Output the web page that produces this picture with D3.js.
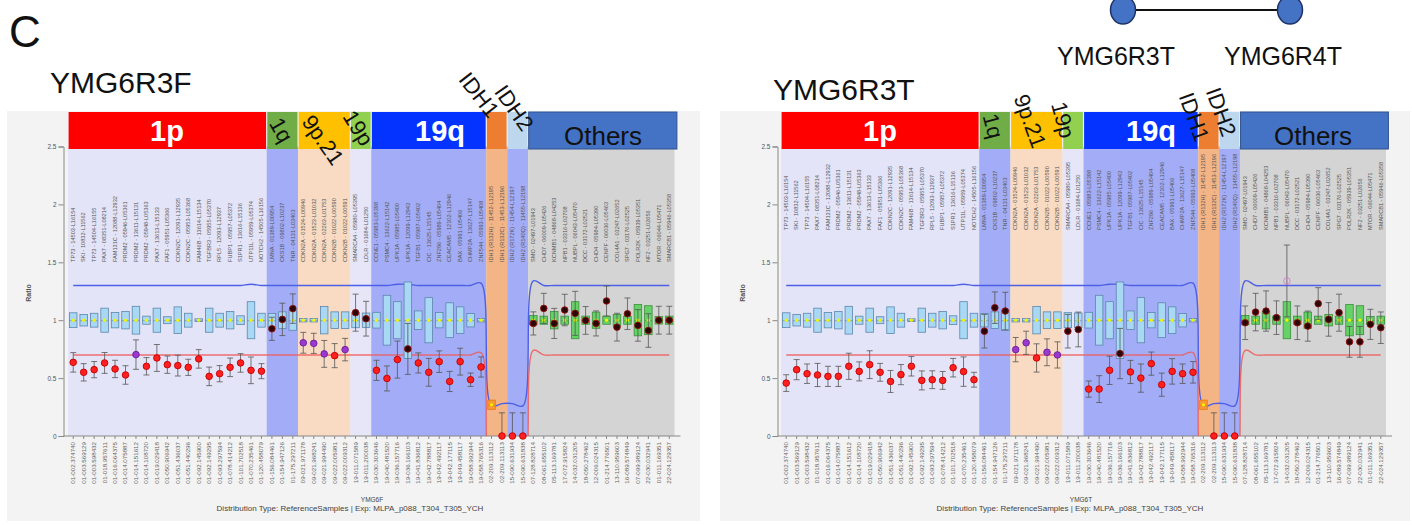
<!DOCTYPE html>
<html>
<head>
<meta charset="utf-8">
<script src="https://cdn.jsdelivr.net/npm/d3@7"></script>
<style>
  body { margin: 0; background: #fff; }
  text { font-family: "Liberation Sans", Arial, sans-serif; }
</style>
</head>
<body>
<svg id="chart" width="1412" height="525"></svg>
<script>
// chromosome regions of the MLPA kit, in probe order
const regionNames = ["1p", "1q", "9p.21", "19p", "19q", "IDH1", "IDH2", "Others"];
const regionSizes = [19, 3, 5, 2, 11, 2, 2, 14];
const headColors = ["#ff0000", "#70ad47", "#ffc000", "#92d050", "#0433ff", "#ed7d31", "#bdd7ee", "#4472c4"];
const bandColors = ["#e4e4f8", "#a3acf6", "#f8dbc2", "#e6e6f8", "#a3acf6", "#f3b486", "#a3acf6", "#d4d4d4"];

const probeNames = [
  "TP73 - 14503-L16154", "SKI - 10832-L11562", "TP73 - 14504-L16155", "PAX7 - 08351-L08214", "FAM131C - 12088-L12932",
  "PRDM2 - 05946-L05361", "PRDM2 - 13611-L15131", "PRDM2 - 05948-L05363", "PAX7 - 13613-L15133", "FAF1 - 05951-L05366",
  "CDKN2C - 12091-L12935", "CDKN2C - 05953-L05368", "FAM46B - 13614-L15134", "TGFBR3 - 05955-L05370", "RPL5 - 12093-L12937",
  "FUBP1 - 05957-L05372", "S1PR1 - 13616-L15136", "UTP11L - 05959-L05374", "NOTCH2 - 14505-L16156",
  "LMNA - 01389-L00954", "CKS1B - 09802-L10237", "TNR - 04131-L03403",
  "CDKN2A - 01524-L00946", "CDKN2A - 01523-L01032", "CDKN2A - 02263-L01753", "CDKN2B - 01022-L00590", "CDKN2B - 01022-L00591",
  "SMARCA4 - 05980-L05395", "LDLR - 01684-L01250",
  "CCNE1 - 05983-L05398", "PSMC4 - 13622-L15142", "UPK1A - 05985-L05400", "UPK1A - 12099-L12943", "TGFB1 - 05987-L05402",
  "CIC - 13625-L15145", "ZNF296 - 05989-L05404", "CEACAM5 - 12102-L12946", "BAX - 05991-L05406", "CHMP2A - 13627-L15147",
  "ZNF544 - 05993-L05408",
  "IDH1 (R132H) - 11452-L12195", "IDH1 (R132C) - 11453-L12196",
  "IDH2 (R172K) - 11454-L12197", "IDH2 (R140Q) - 11455-L12198",
  "SMO - 02497-L01943", "CHD7 - 06009-L05426", "KCNMB1 - 04868-L04253", "NPB1 - 03316-L02708", "NUBPL - 06043-L05470",
  "DCC - 03172-L02521", "CHD4 - 05984-L05390", "CENPF - 06036-L05463", "COL4A1 - 03247-L02652", "SPG7 - 03176-L02525",
  "POLR2K - 05939-L05351", "NF2 - 03251-L02656", "MTOR - 06044-L05471", "SMARCB1 - 05946-L05358"
];

const probeLoci = [
  "01-002.374740", "01-003.569129", "01-003.598432", "01-018.957611", "01-016.064375", "01-014.075887", "01-014.151612",
  "01-014.108720", "01-019.029418", "01-050.906942", "01-051.436037", "01-051.440296", "01-092.145900", "01-092.149295",
  "01-093.297594", "01-078.414212", "01-101.702518", "01-070.235461", "01-120.458079",
  "01-156.084461", "01-154.947126", "01-175.297211",
  "09-021.971178", "09-021.968241", "09-021.994490", "09-022.005981", "09-022.009312",
  "19-011.071589", "19-011.200038",
  "19-030.303646", "19-040.481520", "19-036.157716", "19-036.166103", "19-041.836812", "19-042.788817", "19-042.492117",
  "19-042.177115", "19-049.458117", "19-058.992944", "19-058.765316",
  "02-209.113112", "02-209.113113", "15-090.631934", "15-090.631838",
  "07-128.828714", "08-061.655102", "05-113.169781", "17-072.915824", "14-032.031205", "18-050.278462",
  "12-006.024315", "01-214.776501", "13-110.959603", "16-089.574849", "07-099.989124", "22-030.032941",
  "01-011.169351", "22-024.129357"
];

// reference distribution (box) per probe
const refLevel = [
  1, 1, 1, 1, 1, 1, 1, 1, 1, 1, 1, 1, 1, 1, 1, 1, 1, 1, 1,
  1, 1, 1,
  1, 1, 1, 1, 1,
  1, 1,
  1, 1, 1, 1, 1, 1, 1, 1, 1, 1, 1,
  0.27, null, null, null,
  1, 1, 1, 1, 1, 1, 1, 1, 1, 1, 1, 1, 1, 1
];
const refSpread = [
  0.064, 0.05, 0.06, 0.104, 0.066, 0.075, 0.12, 0.035, 0.104, 0.03, 0.115, 0.06, 0.012, 0.104, 0.06, 0.075, 0.038, 0.16, 0.06,
  0.058, 0.072, 0.087,
  0.015, 0.015, 0.118, 0.072, 0.072,
  0.065, 0.062,
  0.068, 0.215, 0.16, 0.33, 0.08, 0.195, 0.066, 0.15, 0.115, 0.058, 0.015,
  0.04, null, null, null,
  0.04, 0.035, 0.075, 0.035, 0.16, 0.035, 0.07, 0.035, 0.05, 0.035, 0.135, 0.125, 0.033, 0.035
];

// arbitrary limits (upper / lower) per probe
const upperLimit = [
  1.3, 1.3, 1.3, 1.3, 1.3, 1.3, 1.3, 1.3, 1.3, 1.3, 1.3, 1.3, 1.3, 1.3, 1.3, 1.3, 1.3, 1.31, 1.3,
  1.3, 1.3, 1.3,
  1.3, 1.3, 1.3, 1.3, 1.3,
  1.3, 1.3,
  1.3, 1.3, 1.31, 1.31, 1.3, 1.3, 1.3, 1.3, 1.3, 1.3, 1.32,
  0.26, 0.28, 0.28, 0.26,
  1.34, 1.3, 1.3, 1.3, 1.3, 1.3, 1.3, 1.3, 1.3, 1.3, 1.3, 1.3, 1.3, 1.3
];
const lowerLimit = [
  0.7, 0.7, 0.7, 0.7, 0.7, 0.7, 0.7, 0.7, 0.7, 0.7, 0.7, 0.7, 0.7, 0.7, 0.7, 0.7, 0.7, 0.7, 0.7,
  0.7, 0.7, 0.7,
  0.7, 0.7, 0.7, 0.7, 0.7,
  0.7, 0.7,
  0.7, 0.7, 0.7, 0.7, 0.7, 0.7, 0.7, 0.7, 0.7, 0.7, 0.72,
  -0.4, -0.4, -0.4, -0.4,
  0.74, 0.7, 0.7, 0.7, 0.7, 0.7, 0.7, 0.7, 0.7, 0.7, 0.7, 0.7, 0.7, 0.7
];

// YMG6R3F (left)
const leftRatio = [
  0.636, 0.55, 0.573, 0.631, 0.579, 0.527, 0.703, 0.602, 0.674, 0.616, 0.608, 0.593, 0.666, 0.515, 0.538, 0.593, 0.631, 0.567, 0.56,
  0.926, 1.007, 1.10,
  0.805, 0.80, 0.709, 0.694, 0.746,
  1.065, 1.013,
  0.567, 0.497, 0.66, 0.752, 0.631, 0.55, 0.642, 0.471, 0.642, 0.486, 0.596,
  null, 0, 0, 0,
  0.972, 1.102, 0.972, 1.088, 1.059, 0.998, 0.972, 1.166, 0.94, 1.056, 0.955, 0.911, 1.0, 1.0
];
const leftErr = [
  0.084, 0.075, 0.07, 0.09, 0.075, 0.08, 0.127, 0.075, 0.116, 0.075, 0.09, 0.07, 0.08, 0.08, 0.07, 0.08, 0.08, 0.115, 0.065,
  0.1, 0.14, 0.127,
  0.09, 0.087, 0.116, 0.104, 0.097,
  0.16, 0.15,
  0.087, 0.108, 0.16, 0.22, 0.087, 0.12, 0.093, 0.087, 0.116, 0.058, 0.087,
  0, 0.2, 0.2, 0.2,
  0.1, 0.13, 0.13, 0.136, 0.19, 0.12, 0.108, 0.13, 0.12, 0.136, 0.136, 0.145, 0.12, 0.12
];
// r = loss, k = normal, p = borderline, o = gain, - = none
const leftCall = "rrrrrrprrrrrrrrrrrr" + "kkk" + "ppprp" + "kk" + "rrrkrrrrrrr" + "-rrr" + "kkkkkkkkkkkkkk";

// YMG6R3T (right)
const rightRatio = [
  0.457, 0.573, 0.538, 0.527, 0.515, 0.515, 0.602, 0.558, 0.616, 0.55, 0.471, 0.53, 0.602, 0.48, 0.486, 0.48, 0.59, 0.556, 0.486,
  0.905, 1.108, 1.079,
  0.746, 0.805, 0.674, 0.723, 0.70,
  0.905, 0.92,
  0.405, 0.405, 0.567, 0.712, 0.553, 0.5, 0.625, 0.443, 0.558, 0.538, 0.55,
  null, 0, 0, 0,
  0.978, 1.07, 1.079, 1.022, 1.339, 0.978, 0.949, 1.143, 1.007, 1.065, 0.813, 0.813, 0.964, 0.935
];
const rightErr = [
  0.072, 0.087, 0.084, 0.1, 0.087, 0.087, 0.113, 0.082, 0.12, 0.077, 0.095, 0.087, 0.084, 0.082, 0.077, 0.077, 0.08, 0.127, 0.064,
  0.145, 0.136, 0.162,
  0.105, 0.1, 0.122, 0.116, 0.113,
  0.145, 0.15,
  0.07, 0.116, 0.122, 0.217, 0.1, 0.122, 0.1, 0.1, 0.11, 0.084, 0.093,
  0, 0.2, 0.2, 0.2,
  0.145, 0.162, 0.174, 0.145, 0.31, 0.145, 0.13, 0.138, 0.145, 0.16, 0.133, 0.133, 0.13, 0.136
];
const rightCall = "rrrrrrrrrrrrrrrrrrr" + "kkk" + "pprpp" + "kk" + "rrrkrrrrrrr" + "-rrr" + "kkkkokkkkkkkkk";

const yTicks = [0, 0.5, 1, 1.5, 2, 2.5];
const cloneNames = ["YMG6R3T", "YMG6R4T"];

const svg = d3.select("#chart");
const yTop = 146.5, yBot = 436;
const y = d3.scaleLinear().domain([0, 2.5]).range([yBot, yTop]);

// region index of each probe
const regionOf = [];
regionSizes.forEach((n, r) => { for (let k = 0; k < n; k++) regionOf.push(r); });
const regionStart = regionSizes.map((n, r) => d3.sum(regionSizes.slice(0, r)));

const dotStyle = {
  r: { fill: "#ff1f1f", stroke: "#c00000" },
  k: { fill: "#2b0606", stroke: "#9a1010" },
  p: { fill: "#9a38d0", stroke: "#6a1f99" },
  o: { fill: "none", stroke: "#d67ad6" }
};

svg.append("text").attr("x", 9).attr("y", 47).attr("font-size", 44).attr("fill", "#111").text("C");

function drawPanel(p, id) {
  const g = svg.append("g");
  const x = d3.scaleBand().domain(d3.range(probeNames.length)).range([p.plotL, p.plotR]);
  const bw = x.bandwidth();
  const cx = i => x(i) + bw / 2;

  g.append("rect").attr("x", p.bgX0).attr("y", 111).attr("width", p.bgX1 - p.bgX0).attr("height", 410)
    .attr("fill", "#f3f3f3");

  // title
  svg.append("text").attr("x", p.titleX).attr("y", p.titleY).attr("font-size", 30).attr("fill", "#111").text(p.title);

  // region backgrounds
  regionNames.forEach((name, r) => {
    const x0 = x(regionStart[r]);
    const x1 = x(regionStart[r] + regionSizes[r] - 1) + bw;
    g.append("rect").attr("x", x0).attr("y", yTop).attr("width", x1 - x0).attr("height", yBot - yTop)
      .attr("fill", bandColors[r]);
  });

  // probe names on top
  g.selectAll(".pname").data(probeNames).join("text")
    .attr("transform", (d, i) => `translate(${cx(i) + 1.8},${p.labelBase}) rotate(-90)`)
    .attr("font-size", 5.6).attr("fill", "#555").text(d => d);

  // header boxes
  regionNames.forEach((name, r) => {
    const x0 = x(regionStart[r]);
    let x1 = x(regionStart[r] + regionSizes[r] - 1) + bw;
    if (name === "Others") x1 += 3;
    g.append("rect").attr("x", x0 + 0.6).attr("y", 112).attr("width", x1 - x0 - 1.2).attr("height", 37)
      .attr("fill", headColors[r])
      .attr("stroke", name === "Others" ? "#2f528f" : "none").attr("stroke-width", 1);
  });

  // header labels
  p.heads.forEach(h => {
    const t = g.append("text").attr("font-size", h.size).attr("fill", h.color).text(h.text);
    if (h.bold) t.attr("font-weight", "bold");
    if (h.angle) {
      t.attr("text-anchor", "middle").attr("dominant-baseline", "central")
        .attr("transform", `translate(${h.x},${h.y}) rotate(${h.angle})`);
    } else {
      t.attr("text-anchor", "middle").attr("x", h.x).attr("y", h.y);
    }
  });

  // axes
  const yAxis = g.append("g").attr("transform", `translate(${p.axisX},0)`)
    .call(d3.axisLeft(y).tickValues(yTicks).tickSize(5).tickPadding(2).tickFormat(d => d));
  yAxis.selectAll("text").attr("font-size", 6.5).attr("fill", "#555");
  yAxis.selectAll("line,path").attr("stroke", "#888");

  const xAxis = g.append("g").attr("transform", `translate(0,${yBot})`)
    .call(d3.axisBottom(x).tickSize(3).tickFormat(i => probeLoci[i]));
  xAxis.select("path").attr("d", `M${p.axisX},0H${p.plotR + 6}`).attr("stroke", "#888");
  xAxis.selectAll("line").attr("stroke", "#888");
  xAxis.selectAll("text").attr("font-size", 6.2).attr("fill", "#666")
    .attr("text-anchor", "end").attr("dy", "0.32em")
    .attr("transform", "translate(0,2) rotate(-90)").attr("x", -4).attr("y", 0);

  g.append("text").attr("transform", `translate(${p.ratioX},293) rotate(-90)`).attr("text-anchor", "middle")
    .attr("font-size", 7).attr("font-weight", "bold").attr("fill", "#555").text("Ratio");

  // limit lines
  g.append("clipPath").attr("id", "clip" + id).append("rect")
    .attr("x", p.plotL).attr("y", yTop).attr("width", p.plotR - p.plotL).attr("height", yBot - yTop);
  const limitLine = d3.line().x((d, i) => cx(i)).y(d => y(d)).curve(d3.curveCatmullRom.alpha(0.5));
  g.append("path").attr("d", limitLine(upperLimit)).attr("fill", "none")
    .attr("stroke", "#4d5fe6").attr("stroke-width", 1.4).attr("clip-path", `url(#clip${id})`);
  g.append("path").attr("d", limitLine(lowerLimit)).attr("fill", "none")
    .attr("stroke", "#ee5b5b").attr("stroke-width", 1.4).attr("stroke-opacity", 0.85)
    .attr("clip-path", `url(#clip${id})`);

  // reference boxes
  const bx = bw * 0.72;
  refLevel.forEach((lv, i) => {
    if (lv == null) return;
    const reg = regionNames[regionOf[i]];
    let fill = "#a9d8f4", stroke = "#5d86ad";
    if (reg === "Others") { fill = "#66d166"; stroke = "#3b8f3b"; }
    if (reg === "IDH1") { fill = "#f59a36"; stroke = "#e67a10"; }
    const top = y(lv + refSpread[i]), bot = y(lv - refSpread[i]);
    const h = Math.max(bot - top, 2.4);
    g.append("rect").attr("x", cx(i) - bx / 2).attr("y", y(lv) - h / 2).attr("width", bx).attr("height", h)
      .attr("fill", fill).attr("stroke", stroke).attr("stroke-width", 0.8);
    g.append("line").attr("x1", cx(i) - bx / 2).attr("x2", cx(i) + bx / 2)
      .attr("y1", y(lv) + 0.5).attr("y2", y(lv) + 0.5).attr("stroke", stroke).attr("stroke-width", 0.6);
    g.append("circle").attr("cx", cx(i)).attr("cy", y(lv)).attr("r", 1.6).attr("fill", "#f4f400");
  });

  // sample ratios with error bars
  p.ratio.forEach((v, i) => {
    const c = p.call[i];
    if (v == null || c === "-") return;
    const e = p.err[i];
    const gb = g.append("g").attr("clip-path", `url(#clip${id})`);
    const lo = y(Math.max(v - e, 0)), hi = y(v + e);
    gb.append("line").attr("x1", cx(i)).attr("x2", cx(i)).attr("y1", lo).attr("y2", hi)
      .attr("stroke", "#555").attr("stroke-width", 0.8);
    [hi, lo].forEach(yy => gb.append("line").attr("x1", cx(i) - 3).attr("x2", cx(i) + 3)
      .attr("y1", yy).attr("y2", yy).attr("stroke", "#555").attr("stroke-width", 0.8));
    g.append("circle").attr("cx", cx(i)).attr("cy", y(v)).attr("r", 3.3)
      .attr("fill", dotStyle[c].fill).attr("stroke", dotStyle[c].stroke).attr("stroke-width", 0.9);
  });

  // footer captions
  g.append("text").attr("x", p.footX).attr("y", 502).attr("text-anchor", "middle").attr("font-size", 6.5)
    .attr("fill", "#444").text(p.foot);
  g.append("text").attr("x", p.capX).attr("y", 511).attr("text-anchor", "middle").attr("font-size", 8)
    .attr("fill", "#444").text("Distribution Type: ReferenceSamples | Exp: MLPA_p088_T304_T305_YCH");
}

drawPanel({
  bgX0: 7, bgX1: 700, axisX: 63.5, plotL: 68, plotR: 674.5, labelBase: 262, ratioX: 31,
  title: "YMG6R3F", titleX: 50, titleY: 93, foot: "YMG6F", footX: 372, capX: 350,
  ratio: leftRatio, err: leftErr, call: leftCall,
  heads: [
    { text: "1p", x: 167, y: 141, size: 29, bold: true, color: "#fff" },
    { text: "1q", x: 281, y: 130, size: 22, color: "#111", angle: 60 },
    { text: "9p.21", x: 323, y: 140, size: 22, color: "#111", angle: 55 },
    { text: "19p", x: 358, y: 128, size: 22, color: "#111", angle: 58 },
    { text: "19q", x: 440, y: 141, size: 29, bold: true, color: "#fff" },
    { text: "IDH1", x: 479, y: 95, size: 22, color: "#111", angle: 52 },
    { text: "IDH2", x: 514, y: 108, size: 22, color: "#111", angle: 55 },
    { text: "Others", x: 603, y: 145, size: 26, color: "#111" }
  ]
}, 0);

drawPanel({
  bgX0: 720, bgX1: 1410, axisX: 777.5, plotL: 781, plotR: 1386, labelBase: 230, ratioX: 745,
  title: "YMG6R3T", titleX: 773, titleY: 100, foot: "YMG6T", footX: 1081, capX: 1070,
  ratio: rightRatio, err: rightErr, call: rightCall,
  heads: [
    { text: "1p", x: 880, y: 141, size: 29, bold: true, color: "#fff" },
    { text: "1q", x: 993, y: 126, size: 22, color: "#111", angle: 75 },
    { text: "9p.21", x: 1030, y: 121, size: 22, color: "#111", angle: 70 },
    { text: "19p", x: 1063, y: 120, size: 22, color: "#111", angle: 75 },
    { text: "19q", x: 1151, y: 141, size: 29, bold: true, color: "#fff" },
    { text: "IDH1", x: 1194, y: 117, size: 22, color: "#111", angle: 70 },
    { text: "IDH2", x: 1221, y: 112, size: 22, color: "#111", angle: 70 },
    { text: "Others", x: 1313, y: 145, size: 26, color: "#111" }
  ]
}, 1);

// clone relation at top right
const nodeX = d3.scaleOrdinal().domain(cloneNames).range([1123, 1290]);
svg.append("line").attr("x1", nodeX(cloneNames[0])).attr("x2", nodeX(cloneNames[1]))
  .attr("y1", 10).attr("y2", 10).attr("stroke", "#111").attr("stroke-width", 2);
cloneNames.forEach(n => {
  svg.append("ellipse").attr("cx", nodeX(n)).attr("cy", 10).attr("rx", 12.5).attr("ry", 14)
    .attr("fill", "#4472c4").attr("stroke", "#1d3366").attr("stroke-width", 1.5);
  svg.append("text").attr("x", nodeX(n) - 7).attr("y", 65).attr("text-anchor", "middle")
    .attr("font-size", 25).attr("fill", "#111").text(n);
});
</script>
</body>
</html>
